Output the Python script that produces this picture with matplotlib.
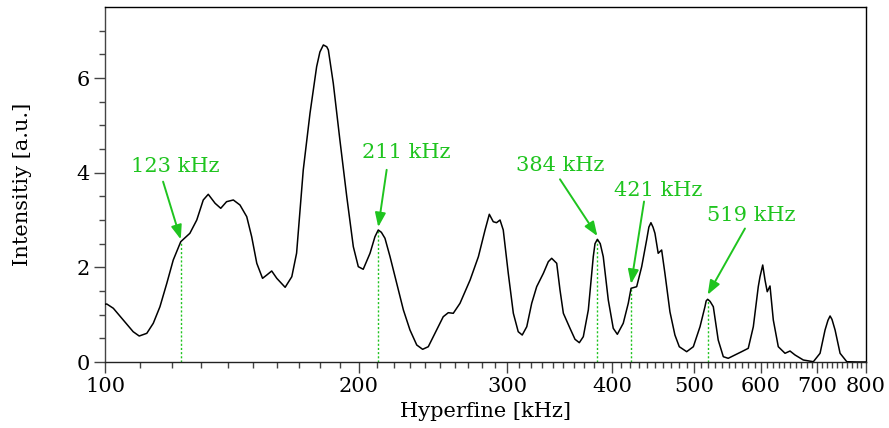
import matplotlib
matplotlib.use("Agg")
import matplotlib.pyplot as plt
from matplotlib.ticker import FixedLocator, FixedFormatter, NullFormatter

# ---- data ----
freq = [100.0, 100.5, 102.3, 105.1, 108.0, 109.8, 112.1, 114.1, 116.2, 118.4, 120.5,
        123.0, 126.1, 128.5, 130.8, 132.6, 135.1, 137.2, 139.4, 142.0, 144.6, 147.3,
        149.3, 151.4, 153.8, 155.6, 157.7, 159.9, 163.6, 166.6, 168.8, 171.9, 175.1,
        178.3, 179.9, 181.6, 183.3, 184.1, 186.6, 190.0, 193.6, 197.1, 199.8, 202.5,
        206.3, 209.1, 211.0, 212.8, 214.9, 217.9, 221.9, 226.0, 230.1, 234.4, 238.2,
        241.9, 247.5, 252.0, 255.5, 259.0, 263.8, 271.2, 277.4, 282.5, 285.8, 288.9,
        291.5, 294.3, 296.9, 301.0, 305.2, 309.3, 312.7, 316.6, 320.9, 325.3, 331.3,
        335.8, 338.9, 343.6, 346.7, 349.9, 356.3, 361.2, 365.5, 369.5, 374.6, 379.7,
        381.5, 384.0, 387.0, 390.2, 395.6, 401.0, 405.5, 412.1, 417.8, 421.0, 427.5,
        433.4, 439.3, 442.0, 444.5, 447.0, 449.4, 453.4, 457.7, 461.8, 468.2, 474.6,
        480.3, 490.1, 499.1, 508.3, 515.2, 516.9, 519.0, 522.5, 527.1, 534.2, 541.7,
        549.0, 559.3, 569.5, 579.9, 588.0, 596.0, 598.8, 603.3, 607.1, 610.8, 615.4,
        621.0, 629.5, 641.2, 650.0, 659.0, 674.1, 692.8, 705.6, 715.3, 721.0, 725.2,
        729.0, 735.2, 745.3, 759.1, 779.9, 800.0]
intensity = [1.22, 1.225, 1.135, 0.887, 0.640, 0.549, 0.606, 0.818, 1.168, 1.663, 2.155,
             2.542, 2.719, 3.000, 3.423, 3.543, 3.353, 3.247, 3.387, 3.423, 3.317, 3.070,
             2.647, 2.085, 1.768, 1.838, 1.923, 1.768, 1.578, 1.802, 2.300, 4.057, 5.255,
             6.239, 6.550, 6.698, 6.660, 6.592, 5.888, 4.690, 3.493, 2.436, 2.014, 1.959,
             2.297, 2.647, 2.789, 2.740, 2.614, 2.225, 1.663, 1.099, 0.676, 0.359, 0.268,
             0.323, 0.676, 0.957, 1.042, 1.029, 1.240, 1.733, 2.225, 2.789, 3.121, 2.964,
             2.943, 3.000, 2.789, 1.874, 1.029, 0.640, 0.570, 0.746, 1.240, 1.591, 1.874,
             2.119, 2.191, 2.085, 1.521, 1.029, 0.712, 0.480, 0.408, 0.535, 1.099, 2.225,
             2.500, 2.592, 2.500, 2.225, 1.310, 0.712, 0.585, 0.818, 1.240, 1.557, 1.591,
             2.014, 2.578, 2.850, 2.943, 2.850, 2.719, 2.297, 2.366, 1.874, 1.060, 0.570,
             0.323, 0.218, 0.323, 0.746, 1.168, 1.290, 1.325, 1.280, 1.168, 0.465, 0.112,
             0.078, 0.148, 0.218, 0.289, 0.746, 1.591, 1.800, 2.049, 1.730, 1.485, 1.606,
             0.887, 0.323, 0.184, 0.232, 0.148, 0.042, 0.006, 0.184, 0.676, 0.880, 0.972,
             0.900, 0.676, 0.184, 0.006, 0.0, 0.0]

marker_freq = [123, 211, 384, 421, 519]
marker_val = [2.542, 2.789, 2.592, 1.557, 1.325]
marker_labels = ["123 kHz", "211 kHz", "384 kHz", "421 kHz", "519 kHz"]
label_pos = [(121.1, 4.12), (227.7, 4.43), (346.5, 4.15), (454.0, 3.63), (584.6, 3.09)]
arrow_tail = [(117.2, 3.81), (215.9, 4.06), (346.7, 3.86), (436.2, 3.39), (574.7, 2.82)]
arrow_head = [(123, 2.59), (211, 2.85), (384, 2.66), (421, 1.65), (519, 1.42)]

xticks = [100, 200, 300, 400, 500, 600, 700, 800]
xminor = [v for v in range(110, 800, 10) if v % 100 != 0]
yticks = [0, 2, 4, 6]
yminor = [0.5, 1, 1.5, 2.5, 3, 3.5, 4.5, 5, 5.5, 6.5, 7]

GREEN = "#1fc41f"
FS = 15
plt.rcParams['font.family'] = ['DejaVu Serif']

fig = plt.figure(figsize=(8.89, 4.28), dpi=100)
ax = fig.add_axes([105/889, 66/428, 761/889, 355/428])

ax.plot(freq, intensity, color="black", lw=1.1, zorder=3,
        solid_joinstyle="round", solid_capstyle="round")

for f, v in zip(marker_freq, marker_val):
    ax.plot([f, f], [0, v], color=GREEN, lw=1.0, ls=(0, (1.5, 1.5)), zorder=2)

for lab, (tx, ty), (ax0, ay0), (hx, hy) in zip(marker_labels, label_pos, arrow_tail, arrow_head):
    ax.text(tx, ty, lab, color=GREEN, fontsize=FS, ha="center", va="center")
    ax.annotate("", xy=(hx, hy), xytext=(ax0, ay0),
                arrowprops=dict(arrowstyle="-|>,head_length=0.85,head_width=0.32",
                                color=GREEN, lw=1.4, shrinkA=0, shrinkB=0))

ax.set_xscale("log")
ax.set_xlim(100, 800)
ax.set_ylim(0, 7.5)
ax.xaxis.set_major_locator(FixedLocator(xticks))
ax.xaxis.set_major_formatter(FixedFormatter([str(v) for v in xticks]))
ax.xaxis.set_minor_locator(FixedLocator(xminor))
ax.xaxis.set_minor_formatter(NullFormatter())
ax.yaxis.set_major_locator(FixedLocator(yticks))
ax.yaxis.set_minor_locator(FixedLocator(yminor))

ax.tick_params(which="major", direction="out", length=8, width=1, color="#444444",
               labelsize=FS, pad=3)
ax.tick_params(which="minor", direction="out", length=4, width=1, color="#444444")
for s in ax.spines.values():
    s.set_linewidth(1.0)
ax.spines["left"].set_color("#444444")
ax.spines["bottom"].set_color("#222222")

ax.set_xlabel("Hyperfine [kHz]", fontsize=FS, labelpad=4)
ax.set_ylabel("Intensitiy [a.u.]", fontsize=FS, labelpad=32)

fig.savefig("out.png", dpi=100)
